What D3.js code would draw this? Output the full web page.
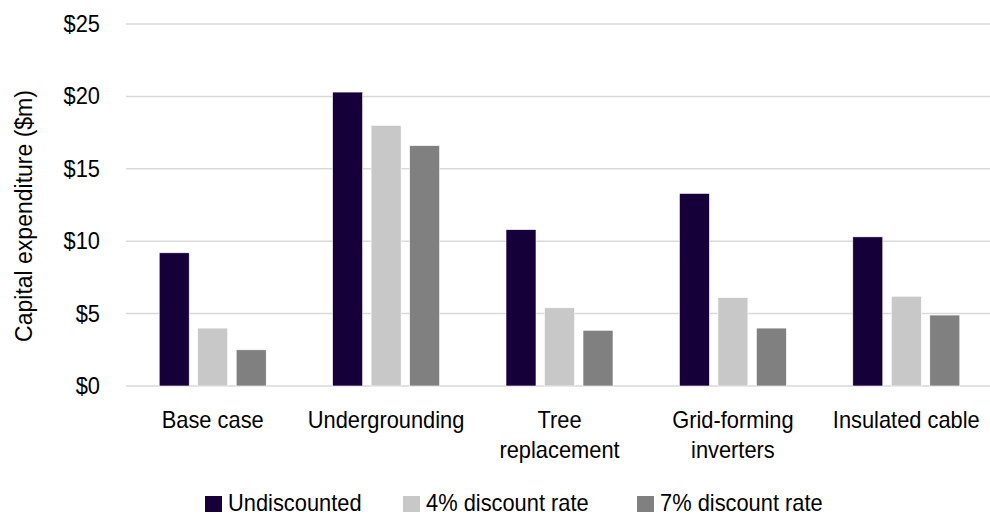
<!DOCTYPE html>
<html>
<head>
<meta charset="utf-8">
<script src="https://cdn.jsdelivr.net/npm/d3@7/dist/d3.min.js"></script>
<style>
  html, body { margin: 0; padding: 0; background: #fff; }
  svg text { font-family: "Liberation Sans", Arial, sans-serif; fill: #000; }
</style>
</head>
<body>
<svg id="chart" width="990" height="517"></svg>
<script>
// Capital expenditure by option ($m)
const categories = ["Base case", "Undergrounding", "Tree replacement", "Grid-forming inverters", "Insulated cable"];
const categoryLines = [["Base case"], ["Undergrounding"], ["Tree", "replacement"], ["Grid-forming", "inverters"], ["Insulated cable"]];
const seriesNames = ["Undiscounted", "4% discount rate", "7% discount rate"];
const undiscounted = [9.2, 20.3, 10.8, 13.3, 10.3];
const discount4 = [4.0, 18.0, 5.4, 6.1, 6.2];
const discount7 = [2.5, 16.6, 3.85, 4.0, 4.9];
const yTicks = [0, 5, 10, 15, 20, 25];
const colors = ["#15003a", "#c8c8c8", "#808080"];

const seriesValues = [undiscounted, discount4, discount7];
const svg = d3.select("#chart");
const FS = 23, SX = 0.95;

const x = d3.scaleBand().domain(categories).range([126, 993]).padding(0);
const y = d3.scaleLinear().domain([0, 25]).range([386, 24]);
const barW = 30, pitch = 38.5;
const sub = d3.scaleLinear().domain([0, 2]).range([-pitch, pitch]);

// gridlines
svg.append("g").selectAll("line").data(yTicks).join("line")
  .attr("x1", 126).attr("x2", 990)
  .attr("y1", d => y(d)).attr("y2", d => y(d))
  .attr("stroke", "#d9d9d9").attr("stroke-width", 1.5);

// y tick labels
svg.append("g").selectAll("text").data(yTicks).join("text")
  .attr("transform", d => `translate(100,${y(d)}) scale(${SX},1)`)
  .attr("text-anchor", "end").attr("dy", "0.35em")
  .style("font-size", FS + "px")
  .text(d => "$" + d);

// axis title
svg.append("text")
  .attr("transform", `translate(32,216) rotate(-90)`)
  .attr("text-anchor", "middle")
  .style("font-size", FS + "px")
  .text("Capital expenditure ($m)");

// bars
const groups = svg.append("g").selectAll("g").data(categories).join("g")
  .attr("transform", d => `translate(${x(d) + x.bandwidth() / 2},0)`);
groups.selectAll("rect")
  .data((d, i) => seriesValues.map((s, k) => ({ k, v: s[i] })))
  .join("rect")
  .attr("x", d => sub(d.k) - barW / 2)
  .attr("width", barW)
  .attr("y", d => y(d.v))
  .attr("height", d => y(0) - y(d.v))
  .attr("fill", d => colors[d.k])
  .attr("stroke", "#fff").attr("stroke-width", 0.6);

// category labels
categories.forEach((c, i) => {
  const t = svg.append("text")
    .attr("transform", `translate(${x(c) + x.bandwidth() / 2},428) scale(${SX},1)`)
    .attr("text-anchor", "middle")
    .style("font-size", FS + "px");
  categoryLines[i].forEach((line, j) => {
    t.append("tspan").attr("x", 0).attr("y", j * 30).text(line);
  });
});

// legend
const legendX = [205, 403, 637];
const lg = svg.append("g").selectAll("g").data(seriesNames).join("g")
  .attr("transform", (d, i) => `translate(${legendX[i]},496)`);
lg.append("rect").attr("width", 17).attr("height", 16)
  .attr("fill", (d, i) => colors[i]);
lg.append("text")
  .attr("transform", `translate(23,15) scale(${SX},1)`)
  .style("font-size", FS + "px")
  .text(d => d);
</script>
</body>
</html>
